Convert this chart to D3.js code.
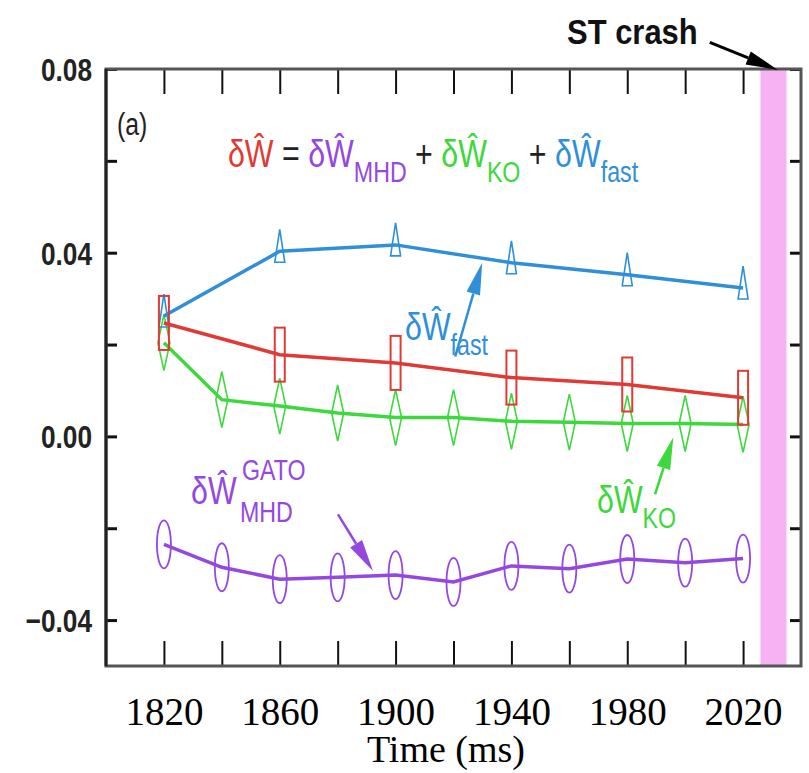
<!DOCTYPE html>
<html>
<head>
<meta charset="utf-8">
<script src="https://cdn.jsdelivr.net/npm/d3@7"></script>
<style>
  body { margin: 0; background: #fff; }
  .narrow { font-family: "Liberation Sans Narrow", "Arial Narrow", "Liberation Sans", Arial, sans-serif; }
</style>
</head>
<body>
<div id="vis"></div>
<script>
// data
var timesFull = [1820, 1840, 1860, 1880, 1900, 1920, 1940, 1960, 1980, 2000, 2020];
var timesCoarse = [1820, 1860, 1900, 1940, 1980, 2020];
var wTotal = [0.0247, 0.0178, 0.0160, 0.0128, 0.0113, 0.0084];
var wFast = [0.0262, 0.0403, 0.0417, 0.0378, 0.0352, 0.0323];
var wKO = [0.0204, 0.0080, 0.0066, 0.0051, 0.0041, 0.0041, 0.0033, 0.0031, 0.0028, 0.0028, 0.0026];
var wMHD = [-0.0235, -0.0285, -0.0311, -0.0307, -0.0302, -0.0317, -0.0282, -0.0288, -0.0267, -0.0275, -0.0266];
var xTicks = [1820, 1840, 1860, 1880, 1900, 1920, 1940, 1960, 1980, 2000, 2020];
var xLabels = [1820, 1860, 1900, 1940, 1980, 2020];
var yTicks = [-0.04, -0.02, 0, 0.02, 0.04, 0.06, 0.08];
var yLabels = [-0.04, 0, 0.04, 0.08];
var crash = [2026, 2035];

var w = 809;
var h = 773;
var sx = 0.8; // squeeze for the narrow sans look

var red = "#e03a36", blue = "#2f8fd8", green = "#3cd83c", purple = "#9448e0";

var svg = d3.select("#vis").append("svg").attr("width", w).attr("height", h);

var x = d3.scaleLinear().domain([1800, 2040]).range([106, 801]);
var y = d3.scaleLinear().domain([-0.05, 0.08]).range([666, 69]);

// ST crash band
svg.append("rect")
  .attr("x", x(crash[0]))
  .attr("y", y(0.08))
  .attr("width", x(crash[1]) - x(crash[0]))
  .attr("height", y(-0.05) - y(0.08))
  .attr("fill", "#f7b2f3");

// ticks (inward, all four sides)
function tickStyle(sw) {
  return function (g) {
    g.select(".domain").remove();
    g.selectAll("line").attr("stroke", "#111").attr("stroke-width", sw);
  };
}
svg.append("g").attr("transform", "translate(0," + y(-0.05) + ")")
  .call(d3.axisBottom(x).tickValues(xTicks).tickSizeInner(-25).tickSizeOuter(0).tickFormat(""))
  .call(tickStyle(2));
svg.append("g").attr("transform", "translate(0," + y(0.08) + ")")
  .call(d3.axisTop(x).tickValues(xTicks).tickSizeInner(-25).tickSizeOuter(0).tickFormat(""))
  .call(tickStyle(2));
svg.append("g").attr("transform", "translate(" + x(1800) + ",0)")
  .call(d3.axisLeft(y).tickValues(yTicks).tickSizeInner(-11).tickSizeOuter(0).tickFormat(""))
  .call(tickStyle(3));
svg.append("g").attr("transform", "translate(" + x(2040) + ",0)")
  .call(d3.axisRight(y).tickValues(yTicks).tickSizeInner(-11).tickSizeOuter(0).tickFormat(""))
  .call(tickStyle(3));

// tick labels
svg.append("g").attr("transform", "translate(0," + y(-0.05) + ")")
  .call(d3.axisBottom(x).tickValues(xLabels).tickSize(0).tickPadding(31).tickFormat(d3.format("d")))
  .call(function (g) {
    g.select(".domain").remove();
    g.selectAll("text").attr("font-family", "'Liberation Serif', 'Times New Roman', serif")
      .attr("font-size", 39).attr("fill", "#000");
  });
svg.append("g").attr("transform", "translate(" + x(1800) + ",0)")
  .call(d3.axisLeft(y).tickValues(yLabels).tickSize(0).tickPadding(14).tickFormat(d3.format(".2f")))
  .call(function (g) {
    g.select(".domain").remove();
    g.selectAll("text").attr("class", "narrow").attr("font-size", 32)
      .attr("font-weight", "bold").attr("fill", "#222").attr("dy", "0.36em")
      .attr("x", -14 / 0.82).attr("transform", "scale(0.82,1)");
  });

svg.append("text")
  .attr("x", 446).attr("y", 762)
  .attr("text-anchor", "middle")
  .attr("font-family", "'Liberation Serif', 'Times New Roman', serif")
  .attr("font-size", 38)
  .text("Time (ms)");

// frame
svg.append("rect")
  .attr("x", x(1800)).attr("y", y(0.08))
  .attr("width", x(2040) - x(1800)).attr("height", y(-0.05) - y(0.08))
  .attr("fill", "none").attr("stroke", "#555").attr("stroke-width", 3);
svg.append("line")
  .attr("x1", x(1800)).attr("x2", x(1800)).attr("y1", y(0.08)).attr("y2", y(-0.05))
  .attr("stroke", "#222").attr("stroke-width", 3);

// series
function series(times, vals) {
  return times.map(function (t, i) { return [t, vals[i]]; });
}
var line = d3.line().x(function (d) { return x(d[0]); }).y(function (d) { return y(d[1]); });

var mhd = series(timesFull, wMHD);
var ko = series(timesFull, wKO);
var tot = series(timesCoarse, wTotal);
var fast = series(timesCoarse, wFast);

svg.append("path").datum(mhd).attr("d", line).attr("fill", "none").attr("stroke", purple).attr("stroke-width", 3.5);
svg.selectAll(".mhdpt").data(mhd).enter().append("ellipse")
  .attr("cx", function (d) { return x(d[0]); })
  .attr("cy", function (d) { return y(d[1]); })
  .attr("rx", 7).attr("ry", 24)
  .attr("fill", "none").attr("stroke", purple).attr("stroke-width", 1.8);

svg.append("path").datum(ko).attr("d", line).attr("fill", "none").attr("stroke", green).attr("stroke-width", 3.5);
svg.selectAll(".kopt").data(ko).enter().append("path")
  .attr("d", function (d) {
    var cx = x(d[0]), cy = y(d[1]);
    return "M" + cx + "," + (cy - 28) + "L" + (cx + 6) + "," + cy + "L" + cx + "," + (cy + 28) + "L" + (cx - 6) + "," + cy + "Z";
  })
  .attr("fill", "none").attr("stroke", green).attr("stroke-width", 1.6);

svg.append("path").datum(fast).attr("d", line).attr("fill", "none").attr("stroke", blue).attr("stroke-width", 3.5);
svg.selectAll(".fastpt").data(fast).enter().append("path")
  .attr("d", function (d) {
    var cx = x(d[0]), cy = y(d[1]);
    return "M" + cx + "," + (cy - 22) + "L" + (cx + 5) + "," + (cy + 11) + "L" + (cx - 5) + "," + (cy + 11) + "Z";
  })
  .attr("fill", "none").attr("stroke", blue).attr("stroke-width", 1.6);

svg.append("path").datum(tot).attr("d", line).attr("fill", "none").attr("stroke", red).attr("stroke-width", 3.5);
svg.selectAll(".totpt").data(tot).enter().append("rect")
  .attr("x", function (d) { return x(d[0]) - 5; })
  .attr("y", function (d) { return y(d[1]) - 27; })
  .attr("width", 10).attr("height", 54)
  .attr("fill", "none").attr("stroke", red).attr("stroke-width", 2);

// arrows
function arrow(from, to, color, width) {
  var x1 = x(from[0]), y1 = y(from[1]), x2 = x(to[0]), y2 = y(to[1]);
  var dx = x2 - x1, dy = y2 - y1, len = Math.sqrt(dx * dx + dy * dy);
  var ux = dx / len, uy = dy / len, hl = 32, hw = 7;
  var bx = x2 - ux * hl, by = y2 - uy * hl;
  svg.append("line").attr("x1", x1).attr("y1", y1).attr("x2", bx).attr("y2", by)
    .attr("stroke", color).attr("stroke-width", width);
  svg.append("path")
    .attr("d", "M" + x2 + "," + y2 + "L" + (bx - uy * hw) + "," + (by + ux * hw) + "L" + (bx + uy * hw) + "," + (by - ux * hw) + "Z")
    .attr("fill", color);
}
arrow([1920.6, 0.0174], [1929.9, 0.0378], blue, 2.5);
arrow([1989.6, -0.0126], [1995.9, -0.0002], green, 2.5);
arrow([1880.1, -0.0170], [1892.2, -0.0293], purple, 2.5);
arrow([2008.5, 0.0858], [2032, 0.0798], "#000", 3);

// narrow text: drawn in a squeezed group
function narrow(px, py, anchor) {
  return svg.append("g").attr("transform", "translate(" + px + "," + py + ") scale(" + sx + ",1)")
    .append("text").attr("class", "narrow").attr("text-anchor", anchor || "start");
}

var hatW = "\u03b4\u0174";
function label(px, py, parts, anchor) {
  var t = narrow(px, py, anchor);
  parts.forEach(function (p) {
    var s = t.append("tspan").attr("fill", p.c).attr("font-size", p.sub ? 29 : 38).text(p.t);
    if (p.sub) s.attr("dy", 15);
    if (p.back) s.attr("dy", -15);
  });
  return t;
}

narrow(117, 135).attr("font-size", 31).attr("fill", "#222").text("(a)");

label(433, 167, [
  { t: hatW, c: red },
  { t: " = ", c: "#222" },
  { t: hatW, c: purple },
  { t: "MHD", c: purple, sub: true },
  { t: " + ", c: "#222", back: true },
  { t: hatW, c: green },
  { t: "KO", c: green, sub: true },
  { t: " + ", c: "#222", back: true },
  { t: hatW, c: blue },
  { t: "fast", c: blue, sub: true }
], "middle");

label(405, 340, [{ t: hatW, c: blue }, { t: "fast", c: blue, sub: true }]);
label(597, 513, [{ t: hatW, c: green }, { t: "KO", c: green, sub: true }]);
label(191, 504, [{ t: hatW, c: purple }]);
narrow(242, 480).attr("font-size", 29).attr("fill", purple).text("GATO");
narrow(240, 522).attr("font-size", 29).attr("fill", purple).text("MHD");

svg.append("g").attr("transform", "translate(567,44) scale(0.86,1)")
  .append("text").attr("class", "narrow")
  .attr("font-size", 36).attr("font-weight", "bold").attr("fill", "#111").text("ST crash");
</script>
</body>
</html>
